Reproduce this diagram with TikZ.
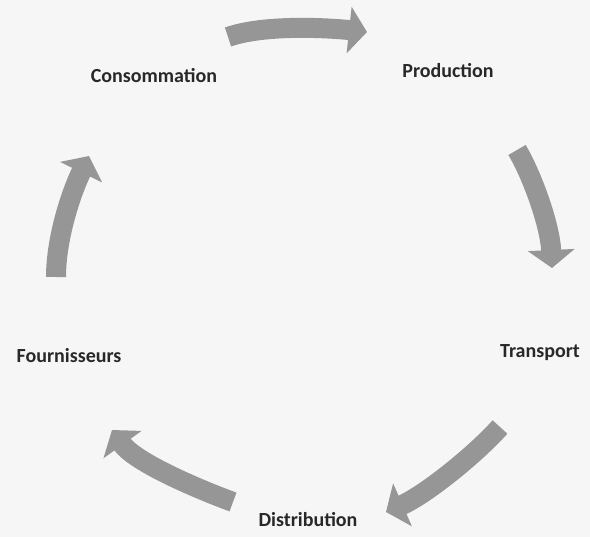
\documentclass[tikz,border=0pt]{standalone}
\usepackage{fontspec}
\setmainfont{Carlito}
\usetikzlibrary{arrows.meta}
\definecolor{paper}{RGB}{246,246,246}
\definecolor{ink}{RGB}{40,40,40}
\definecolor{grain}{RGB}{150,150,150}
\tikzset{
  stage/.style={font=\bfseries\fontsize{20bp}{24bp}\selectfont, text=ink, anchor=base, inner sep=0pt},
  cyclearrow/.style={draw=grain, line width=20bp, -{Triangle[width=46bp,length=18bp]}}
}
\begin{document}
\begin{tikzpicture}[x=1bp, y=-1bp]
  \fill[paper] (0,0) rectangle (590,537);
  \useasboundingbox (0,0) rectangle (590,537);
  % stages of the cycle
  \node[stage] (cons) at (154,83) {Consommation};
  \node[stage] (prod) at (448,78) {Production};
  \node[stage] (trans) at (540,357) {Transport};
  \node[stage] (distr) at (308,526) {Distribution};
  \node[stage] (fourn) at (69,362) {Fournisseurs};
  % arrow ends
  \coordinate (cp-s) at (228,37);  \coordinate (cp-e) at (367,32);
  \coordinate (pt-s) at (517,150); \coordinate (pt-e) at (552,268);
  \coordinate (td-s) at (500,427); \coordinate (td-e) at (386,512);
  \coordinate (df-s) at (233,502); \coordinate (df-e) at (112,430);
  \coordinate (fc-s) at (56,277);  \coordinate (fc-e) at (89,156);
  % curved arrows
  \draw[cyclearrow] (cp-s) .. controls (265,24) and (330,28) .. (cp-e);
  \draw[cyclearrow] (pt-s) .. controls (532,175) and (550,225) .. (pt-e);
  \draw[cyclearrow] (td-s) .. controls (475,455) and (425,495) .. (td-e);
  \draw[cyclearrow] (df-s) .. controls (195,488) and (135,462) .. (df-e);
  \draw[cyclearrow] (fc-s) .. controls (56,240) and (70,195) .. (fc-e);
\end{tikzpicture}
\end{document}
